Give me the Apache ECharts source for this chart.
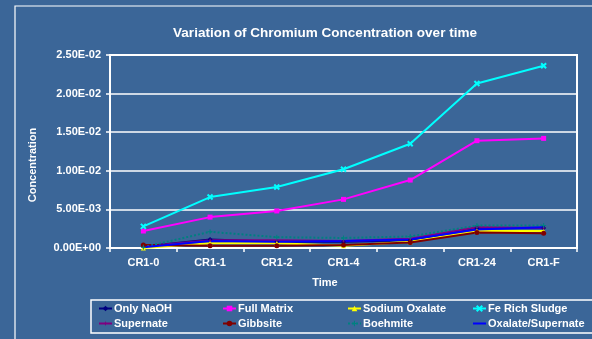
<!DOCTYPE html>
<html>
<head>
<meta charset="utf-8">
<script src="https://cdn.jsdelivr.net/npm/echarts@6/dist/echarts.min.js"></script>
<style>
html,body{margin:0;padding:0;background:#3b6698;}
#c{width:592px;height:339px;}
</style>
</head>
<body>
<div id="c"></div>
<script>
const categories = ['CR1-0','CR1-1','CR1-2','CR1-4','CR1-8','CR1-24','CR1-F'];
const yTicks = ['0.00E+00','5.00E-03','1.00E-02','1.50E-02','2.00E-02','2.50E-02'];
const onlyNaOH      = [0.0002, 0.0011, 0.0008, 0.0008, 0.0010, 0.0026, 0.0026];
const fullMatrix    = [0.0022, 0.0040, 0.0048, 0.0063, 0.0088, 0.0139, 0.0142];
const sodiumOxalate = [0.0000, 0.0006, 0.0006, 0.0003, 0.0008, 0.0022, 0.0022];
const feRichSludge  = [0.0028, 0.0066, 0.0079, 0.0102, 0.0135, 0.0213, 0.0236];
const supernate     = [0.0002, 0.0010, 0.0010, 0.0009, 0.0012, 0.0027, 0.0026];
const gibbsite      = [0.0004, 0.0003, 0.0003, 0.0004, 0.0007, 0.0020, 0.0019];
const boehmite      = [0.0001, 0.0021, 0.0014, 0.0013, 0.0015, 0.0029, 0.0029];
const oxSupernate   = [0.0001, 0.0009, 0.0008, 0.0009, 0.0011, 0.0024, 0.0027];

const FONT = '"Liberation Sans", Arial, sans-serif';
const shadow = {textShadowColor:'#1c2f4a', textShadowOffsetX:1, textShadowOffsetY:1, textShadowBlur:0};
const txt = Object.assign({color:'#ffffff', fontFamily:FONT, fontWeight:'bold', fontSize:11}, shadow);

function mk(name, data, color, symbol, extra){
  return Object.assign({
    name, type:'line', data, symbol, symbolSize:5, showSymbol:true,
    lineStyle:{color, width:2}, itemStyle:{color},
    animation:false
  }, extra||{});
}

const series = [
  mk('Only NaOH', onlyNaOH, '#000080', 'diamond'),
  mk('Full Matrix', fullMatrix, '#ff00ff', 'rect'),
  mk('Sodium Oxalate', sodiumOxalate, '#ffff00', 'triangle'),
  mk('Fe Rich Sludge', feRichSludge, '#00ffff', 'path://M0,0L10,10M10,0L0,10', {itemStyle:{color:'#00ffff', borderColor:'#00ffff', borderWidth:2}}),
  mk('Supernate', supernate, '#800080', 'path://M5,0L6,4L10,5L6,6L5,10L4,6L0,5L4,4Z'),
  mk('Gibbsite', gibbsite, '#800000', 'circle'),
  mk('Boehmite', boehmite, '#008080', 'path://M4,0H6V4H10V6H6V10H4V6H0V4H4Z', {lineStyle:{color:'#008080', width:2, type:'dotted'}}),
  mk('Oxalate/Supernate', oxSupernate, '#0000ff', 'none')
];

function leg(names, left){
  return {
    data: names.map(n => n === 'Oxalate/Supernate' ? {name:n, icon:'path://M0,4H13V6H0Z'} : n),
    orient:'vertical', left, top:303, itemGap:4,
    itemWidth:13, itemHeight:7, padding:0,
    textStyle:Object.assign({}, txt, {padding:[0,0,0,-3]})
  };
}

const chart = echarts.init(document.getElementById('c'), null, {renderer:'canvas'});
chart.setOption({
  backgroundColor:'#3b6698',
  animation:false,
  title:{show:false},
  grid:{left:110, right:15, top:55, bottom:91, show:true, borderColor:'#ffffff', borderWidth:2, backgroundColor:'transparent', containLabel:false},
  legend:[
    leg(['Only NaOH','Supernate'], 98),
    leg(['Full Matrix','Gibbsite'], 222),
    leg(['Sodium Oxalate','Boehmite'], 347),
    leg(['Fe Rich Sludge','Oxalate/Supernate'], 472)
  ],
  xAxis:{
    type:'category', data:categories, boundaryGap:true,
    axisLine:{lineStyle:{color:'#ffffff', width:2}},
    axisTick:{show:true, length:4, lineStyle:{color:'#ffffff', width:1.5}},
    axisLabel:Object.assign({}, txt, {margin:9}),
    splitLine:{show:false}
  },
  yAxis:{
    type:'value', min:0, max:0.025, interval:0.005,
    axisLine:{show:true, lineStyle:{color:'#ffffff', width:2}},
    axisTick:{show:true, length:4, lineStyle:{color:'#ffffff', width:1.5}},
    axisLabel:Object.assign({}, txt, {margin:9, formatter:(v)=>yTicks[Math.round(v/0.005)]}),
    splitLine:{show:true, lineStyle:{color:'#ffffff', width:1.5}}
  },
  graphic:[
    {type:'rect', silent:true, shape:{x:15, y:6, width:600, height:360}, style:{fill:'none', stroke:'#ffffff', lineWidth:1.2}},
    {type:'rect', silent:true, shape:{x:91, y:300, width:520, height:33}, style:{fill:'none', stroke:'#ffffff', lineWidth:1.5}},
    {type:'text', x:325, y:33, style:{text:'Variation of Chromium Concentration over time', fill:'#ffffff', font:'bold 13.5px '+FONT, textAlign:'center', textVerticalAlign:'middle', textShadowColor:'#1c2f4a', textShadowOffsetX:1, textShadowOffsetY:1}},
    {type:'text', x:325, y:283, style:{text:'Time', fill:'#ffffff', font:'bold 11px '+FONT, textAlign:'center', textVerticalAlign:'middle', textShadowColor:'#1c2f4a', textShadowOffsetX:1, textShadowOffsetY:1}},
    {type:'text', x:33, y:165, rotation:Math.PI/2, style:{text:'Concentration', fill:'#ffffff', font:'bold 11px '+FONT, textAlign:'center', textVerticalAlign:'middle', textShadowColor:'#1c2f4a', textShadowOffsetX:1, textShadowOffsetY:1}}
  ],
  series
});
</script>
</body>
</html>
